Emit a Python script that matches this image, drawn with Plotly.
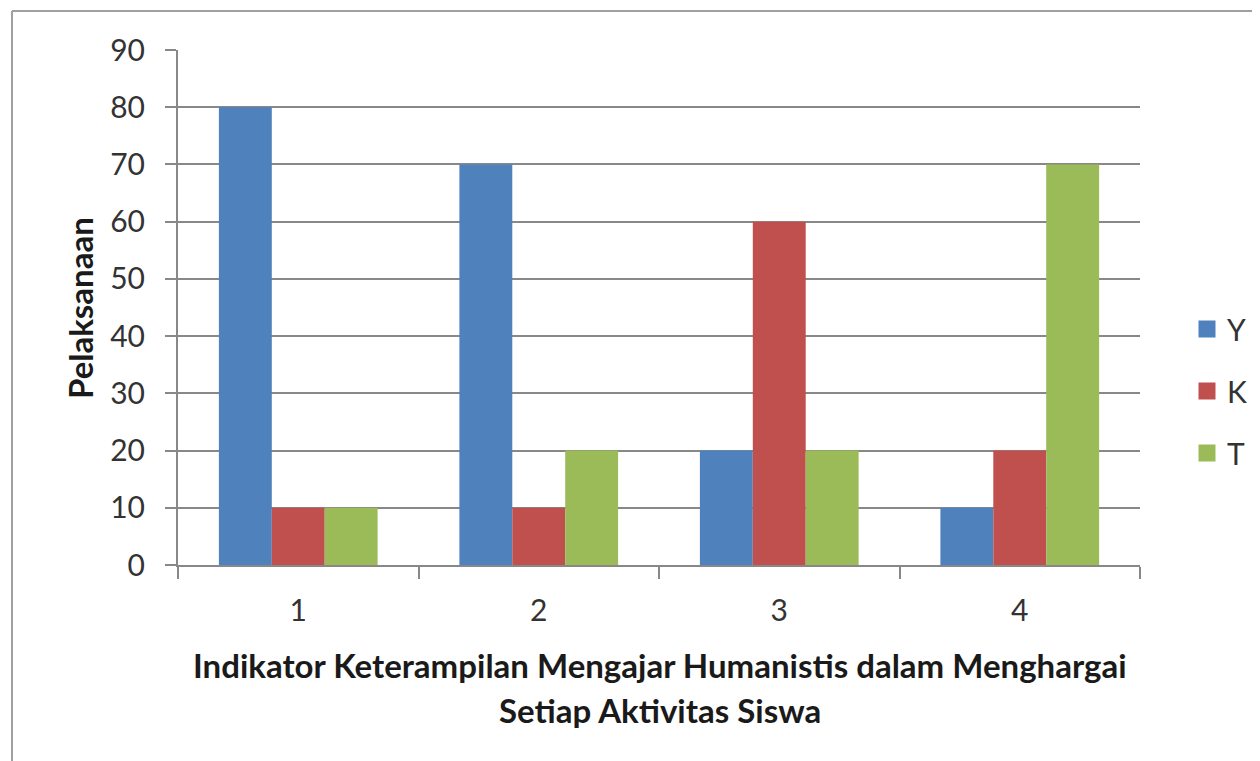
import plotly.graph_objects as go

categories = ["1", "2", "3", "4"]
series_names = ["Y", "K", "T"]
values_Y = [80, 70, 20, 10]
values_K = [10, 10, 60, 20]
values_T = [10, 20, 20, 70]
colors = ["#4F81BD", "#C0504D", "#9BBB59"]
y_ticks = [0, 10, 20, 30, 40, 50, 60, 70, 80, 90]

W, H = 1260, 761
OX, OY = 8, 8  # page body offset
PL, PR, PT, PB = 178, 1140, 50, 565  # plot area in screen px
L, T = PL - OX, PT - OY
pw, ph = PR - PL, PB - PT
R, B = W - L - pw, H - T - ph

def px_x(x):
    return (x - PL) / pw

def px_y(y):
    return (PB - y) / ph

FONT = "Lato"
fig = go.Figure()
for name, vals, col in zip(series_names, [values_Y, values_K, values_T], colors):
    fig.add_trace(go.Bar(x=categories, y=vals, name=name, marker=dict(color=col, line=dict(width=0)),
                         showlegend=False))
for name, col in zip(series_names, colors):
    fig.add_trace(go.Bar(x=[None], y=[None], name=name, legendgroup=name, xaxis="x2", yaxis="y2",
                         marker=dict(color=col, line=dict(color=col, width=5)), showlegend=True))

fig.update_layout(
    width=W, height=H,
    margin=dict(l=L, r=R, t=T, b=B, autoexpand=False),
    paper_bgcolor="white", plot_bgcolor="white",
    barmode="group", bargap=0.34, bargroupgap=0,
    font=dict(family=FONT, size=30, color="#333333"),
    legend=dict(x=px_x(1187), y=px_y(391), xanchor="left", yanchor="middle",
                font=dict(family=FONT, size=30, color="#333333"),
                tracegroupgap=20, itemwidth=30, bgcolor="rgba(0,0,0,0)"),
    xaxis=dict(type="category", showline=True, linecolor="#888888", linewidth=2,
               ticks="outside", tickson="boundaries", ticklen=12, tickcolor="#888888", tickwidth=2,
               ticklabelstandoff=18,
               showgrid=False, tickfont=dict(family=FONT, size=30, color="#333333")),
    yaxis=dict(range=[0, 90], tickvals=y_ticks, showline=True, linecolor="#888888", linewidth=2,
               ticks="outside", ticklen=11, tickcolor="#888888", tickwidth=2, ticklabelstandoff=14,
               showgrid=True, gridcolor="#888888", gridwidth=2, zeroline=False,
               tickfont=dict(family=FONT, size=30, color="#333333")),
    xaxis2=dict(overlaying="x", visible=False, showgrid=False),
    yaxis2=dict(overlaying="y", visible=False, showgrid=False),
    annotations=[
        dict(text="<b>Indikator Keterampilan Mengajar Humanistis dalam Menghargai</b>", xref="paper", yref="paper",
             x=px_x(660), y=px_y(665), showarrow=False, xanchor="center", yanchor="middle",
             font=dict(family=FONT, size=33, color="#1a1a1a")),
        dict(text="<b>Setiap Aktivitas Siswa</b>", xref="paper", yref="paper",
             x=px_x(660), y=px_y(710), showarrow=False, xanchor="center", yanchor="middle",
             font=dict(family=FONT, size=33, color="#1a1a1a")),
        dict(text="<b>Pelaksanaan</b>", xref="paper", yref="paper", textangle=-90,
             x=px_x(80), y=px_y(308), showarrow=False, xanchor="center", yanchor="middle",
             font=dict(family=FONT, size=33, color="#1a1a1a")),
    ],
    shapes=[
        dict(type="line", xref="paper", yref="paper", x0=px_x(12), x1=px_x(1290), y0=px_y(11), y1=px_y(11),
             line=dict(color="#A0A0A0", width=2)),
        dict(type="line", xref="paper", yref="paper", x0=px_x(12), x1=px_x(12), y0=px_y(11), y1=px_y(790),
             line=dict(color="#A0A0A0", width=2)),
    ],
)
fig.write_html("out.html")
